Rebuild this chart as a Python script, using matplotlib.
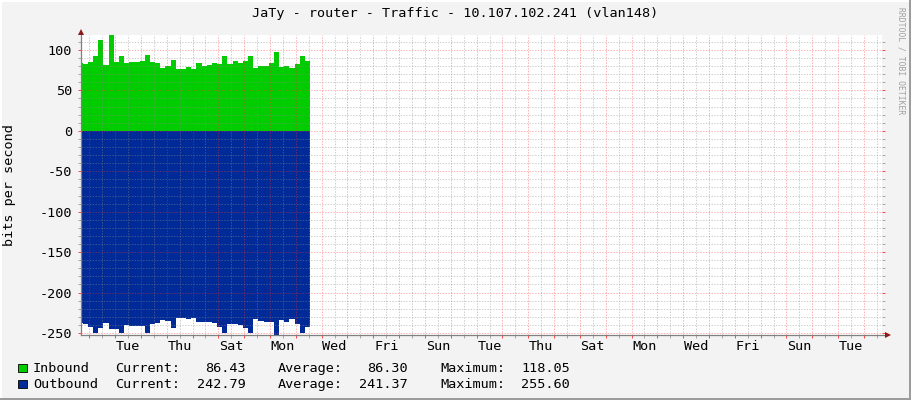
import matplotlib.pyplot as plt
import numpy as np
from matplotlib.patches import Rectangle
from matplotlib.transforms import blended_transform_factory

W, H = 911, 400

# traffic samples (bits per second), one step ~ 0.2 day, oldest first
inbound = [83.5, 82.7, 85.0, 92.6, 112.0, 81.5, 118.0, 85.6, 92.6, 84.4,
           85.2, 85.2, 86.4, 94.0, 85.2, 84.0, 78.2, 80.7, 88.0, 77.0,
           77.0, 79.0, 77.0, 84.0, 80.7, 81.5, 84.0, 82.7, 92.6, 82.7,
           86.4, 84.4, 86.4, 92.6, 77.8, 80.7, 80.7, 84.0, 97.5, 79.0,
           80.2, 78.2, 82.7, 92.6, 86.4]
outbound = [238.0, 239.0, 242.0, 250.0, 244.0, 238.0, 245.5, 245.5, 250.0, 240.0,
            241.0, 241.0, 241.0, 250.0, 239.0, 238.0, 234.0, 234.7, 244.0, 231.8,
            231.8, 233.0, 231.8, 236.0, 237.0, 236.7, 238.0, 242.0, 250.0, 238.7,
            239.0, 240.0, 244.0, 250.0, 233.0, 234.7, 236.0, 237.0, 255.6, 234.0,
            236.0, 233.0, 238.7, 250.0, 242.8]

day_labels = ['Tue', 'Thu', 'Sat', 'Mon', 'Wed', 'Fri', 'Sun', 'Tue',
              'Thu', 'Sat', 'Mon', 'Wed', 'Fri', 'Sun', 'Tue']
series_names = ['Inbound', 'Outbound']
series_colors = ['#00cc00', '#002a97']
current = ['86.43', '242.79']
average = ['86.30', '241.37']
maximum = ['118.05', '255.60']

FONT = 'DejaVu Sans Mono'
FS = 9.7

xmin, xmax = -0.32, 30.68
ymin, ymax = -252.5, 118.5


def fx(x):
    return x / W


def fy(y):
    return 1 - y / H


fig = plt.figure(figsize=(W / 100, H / 100), dpi=100, facecolor='#f3f3f3')
ax = fig.add_axes([fx(81), fy(335), 800.5 / W, 300 / H])
ax.set_facecolor('white')
ax.set_xlim(xmin, xmax)
ax.set_ylim(ymin, ymax)

edges = np.r_[xmin, -0.25 + 0.2 * np.arange(len(inbound))]
ax.fill_between(edges, 0, inbound + [inbound[-1]], step='post',
                color=series_colors[0], lw=0, zorder=2)
neg = [-v for v in outbound]
ax.fill_between(edges, 0, neg + [neg[-1]], step='post',
                color=series_colors[1], lw=0, zorder=2)

# grid (drawn over the data, like rrdtool)
minor_c = (0.55, 0.55, 0.55, 0.42)
major_c = (1.0, 0.2, 0.2, 0.38)
dots = (0, (1.4, 1.4))
for d in np.arange(0, 31):
    ax.axvline(d, color=major_c, lw=0.72, ls=dots, zorder=3)
    ax.axvline(d + 0.5, color=minor_c, lw=0.72, ls=dots, zorder=3)
for v in range(-250, 120, 10):
    c = major_c if v % 50 == 0 else minor_c
    ax.axhline(v, color=c, lw=0.72, ls=dots, zorder=3)

for s in ['top', 'right', 'left', 'bottom']:
    ax.spines[s].set_visible(False)

# axes lines with arrows
ax.plot([xmin, xmin], [ymin, ymax + 4], color='#808080', lw=0.9,
        clip_on=False, zorder=4)
ax.plot([xmin, xmax + 0.2], [ymin, ymin], color='#808080', lw=0.9,
        clip_on=False, zorder=4)
ax.plot([xmin], [ymax + 4], marker='^', ms=5, color='#8b1a1a',
        clip_on=False, zorder=5, mew=0)
ax.plot([xmax + 0.25], [ymin], marker='>', ms=5, color='#8b1a1a',
        clip_on=False, zorder=5, mew=0)

# y ticks
ax.set_yticks(range(-250, 101, 50))
ax.set_yticks(range(-250, 111, 10), minor=True)
ax.set_yticklabels([str(v) for v in range(-250, 101, 50)],
                   fontfamily=FONT, fontsize=FS)
ax.tick_params(axis='y', which='major', length=2.2, width=0.72,
               color=(1, 0.3, 0.3), pad=4.3)
ax.tick_params(axis='y', which='minor', length=2.2, width=0.72,
               color='#aaaaaa')
ax.tick_params(axis='y', which='both', right=True)

# x ticks: marks only, labels placed at noon of every second day
ax.set_xticks(np.arange(0, 31))
ax.set_xticks(np.arange(0.5, 31, 1.0), minor=True)
ax.set_xticklabels([])
ax.tick_params(axis='x', which='major', length=2, width=0.72,
               color=(1, 0.3, 0.3))
ax.tick_params(axis='x', which='minor', length=2, width=0.72,
               color='#aaaaaa')
trans = blended_transform_factory(ax.transData, ax.transAxes)
for i, lab in enumerate(day_labels):
    ax.text(1.5 + 2 * i, -0.04, lab, transform=trans, ha='center',
            va='center', fontfamily=FONT, fontsize=FS)

fig.text(fx(455), fy(14), 'JaTy - router - Traffic - 10.107.102.241 (vlan148)',
         ha='center', va='center', fontfamily=FONT, fontsize=FS)
fig.text(fx(10), fy(185), 'bits per second', rotation=90, ha='center',
         va='center', fontfamily=FONT, fontsize=FS)
fig.text(fx(901), fy(7), 'RRDTOOL / TOBI OETIKER', rotation=270,
         ha='center', va='top', fontfamily=FONT, fontsize=5.8, color='#a0a0a0')

# legend
for i, name in enumerate(series_names):
    yc = 368.3 + 16 * i
    fig.add_artist(Rectangle((fx(17.5), fy(yc + 4)), 9 / W, 8 / H,
                             transform=fig.transFigure, facecolor=series_colors[i],
                             edgecolor='black', lw=0.6))
    fig.text(fx(33), fy(yc), name, ha='left', va='center',
             fontfamily=FONT, fontsize=FS)
    fig.text(fx(115.5), fy(yc), 'Current:', ha='left', va='center',
             fontfamily=FONT, fontsize=FS)
    fig.text(fx(245.5), fy(yc), current[i], ha='right', va='center',
             fontfamily=FONT, fontsize=FS)
    fig.text(fx(278), fy(yc), 'Average:', ha='left', va='center',
             fontfamily=FONT, fontsize=FS)
    fig.text(fx(407.5), fy(yc), average[i], ha='right', va='center',
             fontfamily=FONT, fontsize=FS)
    fig.text(fx(440), fy(yc), 'Maximum:', ha='left', va='center',
             fontfamily=FONT, fontsize=FS)
    fig.text(fx(570), fy(yc), maximum[i], ha='right', va='center',
             fontfamily=FONT, fontsize=FS)

# 3d frame around the canvas
fig.add_artist(Rectangle((0, fy(2)), 1, 2 / H, transform=fig.transFigure,
                         facecolor='white', lw=0))
fig.add_artist(Rectangle((0, 0), 2 / W, 1, transform=fig.transFigure,
                         facecolor='white', lw=0))
fig.add_artist(Rectangle((fx(909), 0), 2 / W, 1, transform=fig.transFigure,
                         facecolor='#9c9c9c', lw=0))
fig.add_artist(Rectangle((0, 0), 1, 2 / H, transform=fig.transFigure,
                         facecolor='#9c9c9c', lw=0))

fig.savefig('out.png', dpi=100, facecolor=fig.get_facecolor())
